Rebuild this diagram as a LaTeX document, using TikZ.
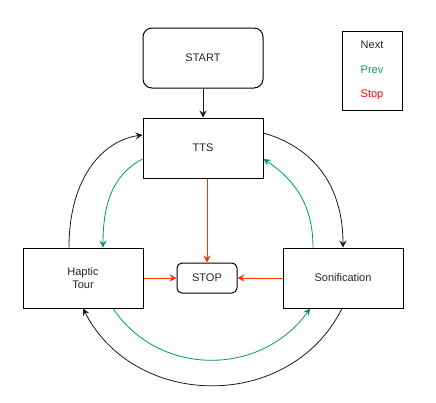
\documentclass[tikz,border=0pt]{standalone}
\usepackage{fontspec}
\setmainfont{Liberation Sans}
\usetikzlibrary{arrows.meta}
\definecolor{pgreen}{RGB}{0,153,102}
\definecolor{sred}{RGB}{255,51,0}
\definecolor{tred}{RGB}{255,0,0}
\definecolor{nblack}{RGB}{26,26,26}
\begin{document}
\begin{tikzpicture}[x=1pt,y=-1pt,
  box/.style={draw, line width=1pt, minimum width=120pt, minimum height=60pt, align=center, font=\fontsize{11}{13}\selectfont, text=black!85},
  rbox/.style={box, rounded corners=9pt},
  sbox/.style={draw, line width=1pt, rounded corners=5pt, minimum width=60pt, minimum height=30pt, font=\fontsize{11}{13}\selectfont, text=black!85},
  arr/.style={-{Stealth[length=7pt,width=7pt,inset=2.5pt]}, line width=0.8pt},
  nextc/.style={arr, draw=nblack},
  prevc/.style={arr, draw=pgreen},
  stopc/.style={arr, draw=sred},
  lab/.style={font=\fontsize{11}{13}\selectfont}
]
\useasboundingbox (0,0) rectangle (436,402);
\node[rbox] (start) at (203,58) {START};
\node[box] (tts) at (203,148) {TTS};
\node[box] (hap) at (83,278) {Haptic\\Tour};
\node[box] (son) at (343,278) {Sonification};
\node[sbox] (stop) at (207,278) {STOP};
\node[draw, line width=1pt, minimum width=60pt, minimum height=79pt] (leg) at (372,70.5) {};
\node[lab, text=black!85] (lnext) at (372,45) {Next};
\node[lab, text=pgreen] (lprev) at (372,70) {Prev};
\node[lab, text=tred] (lstop) at (372,95) {Stop};

\draw[nextc] (start.south) -- (tts.north);
\draw[stopc] (tts.south -| stop.north) -- (stop.north);
\draw[stopc] (hap.east) -- (stop.west);
\draw[stopc] (son.west) -- (stop.east);

\draw[nextc] ([xshift=-14pt]hap.north) .. controls (69,175) and (105,140) .. ([yshift=13pt]tts.west);
\draw[prevc] ([yshift=-11pt]tts.west) .. controls (112,175) and (103,205) .. ([xshift=20pt]hap.north);
\draw[nextc] ([yshift=15pt]tts.east) .. controls (322,150) and (343,195) .. (son.north);
\draw[prevc] ([xshift=-30pt]son.north) .. controls (313,205) and (295,180) .. ([yshift=-11pt]tts.east);
\draw[prevc] ([xshift=30pt]hap.south) .. controls (160,378) and (262,376) .. ([xshift=-33pt]son.south);
\draw[nextc] ([xshift=-1pt]son.south) .. controls (290,412) and (135,410) .. (hap.south);
\end{tikzpicture}
\end{document}
